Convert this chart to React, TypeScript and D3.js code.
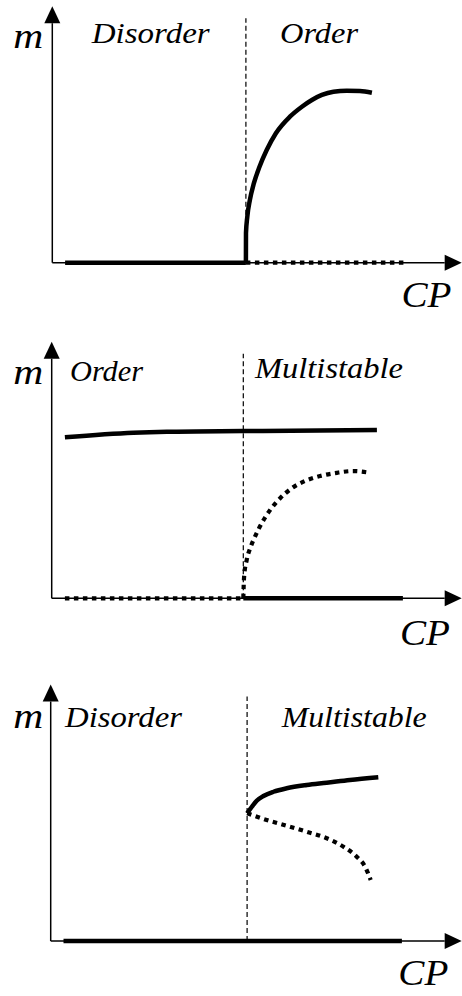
import React from "react";
import * as d3 from "d3";

type Pt = [number, number];

// ---- Data (CP on x, m on y) ----
const criticalPoints = [4.84, 4.79, 4.91];

const regionLabels = [
  ["Disorder", "Order"],
  ["Order", "Multistable"],
  ["Disorder", "Multistable"],
];

// Panel 1
const p1StableZero: Pt[] = [[0.32, 0], [4.84, 0]];
const p1UnstableZero: Pt[] = [[4.84, 0], [8.82, 0]];
const p1OrderBranch: Pt[] = [
  [4.84, 0], [4.842, 0.118], [4.875, 0.184], [4.94, 0.251], [5.04, 0.318], [5.18, 0.384],
  [5.36, 0.451], [5.59, 0.518], [5.94, 0.584], [6.24, 0.624], [6.49, 0.651], [6.74, 0.671],
  [7.03, 0.684], [7.36, 0.688], [7.69, 0.687], [7.99, 0.68],
];

// Panel 2
const p2OrderBranch: Pt[] = [[0.33, 0.644], [2.04, 0.662], [2.88, 0.666], [4.79, 0.669], [8.13, 0.673]];
const p2UnstableBranch: Pt[] = [
  [4.79, 0], [4.81, 0.086], [4.875, 0.153], [4.975, 0.206], [5.08, 0.246], [5.25, 0.3],
  [5.46, 0.353], [5.71, 0.4], [6.0, 0.44], [6.33, 0.469], [6.71, 0.489], [7.13, 0.502],
  [7.54, 0.509], [7.96, 0.502],
];
const p2UnstableZero: Pt[] = [[0.33, 0], [4.79, 0]];
const p2StableZero: Pt[] = [[4.79, 0], [8.78, 0]];

// Panel 3
const p3StableUpper: Pt[] = [
  [4.91, 0.511], [5.03, 0.537], [5.15, 0.561], [5.32, 0.58], [5.57, 0.597], [5.9, 0.611],
  [6.4, 0.624], [6.9, 0.633], [7.48, 0.644], [8.19, 0.655],
];
const p3UnstableMiddle: Pt[] = [
  [4.91, 0.511], [5.4, 0.484], [5.9, 0.461], [6.4, 0.437], [6.9, 0.411], [7.32, 0.377],
  [7.65, 0.337], [7.86, 0.297], [8.0, 0.244],
];
const p3StableZero: Pt[] = [[0.32, 0], [8.78, 0]];

type Series = { pts: Pt[]; dotted: boolean };

const panelSeries: Series[][] = [
  [
    { pts: p1StableZero, dotted: false },
    { pts: p1UnstableZero, dotted: true },
    { pts: p1OrderBranch, dotted: false },
  ],
  [
    { pts: p2OrderBranch, dotted: false },
    { pts: p2UnstableBranch, dotted: true },
    { pts: p2UnstableZero, dotted: true },
    { pts: p2StableZero, dotted: false },
  ],
  [
    { pts: p3StableUpper, dotted: false },
    { pts: p3UnstableMiddle, dotted: true },
    { pts: p3StableZero, dotted: false },
  ],
];

// ---- Layout ----
const W = 462;
const H = 996;
const originsX = [52.3, 51.7, 50.7];
const originsY = [262.7, 598.3, 941];
const labelBaseline = [
  { m: 48, left: 43.3, right: 43.3, cp: 306.7 },
  { m: 383.5, left: 381, right: 378, cp: 645 },
  { m: 727.5, left: 727, right: 727, cp: 985 },
];
const labelX = [
  { left: 91.7, leftLen: 118, right: 280, rightLen: 78, cp: 401.5 },
  { left: 70, leftLen: 73, right: 255, rightLen: 148, cp: 400 },
  { left: 65, leftLen: 117, right: 281.7, rightLen: 145, cp: 398.3 },
];
const FONT = "Liberation Serif";

function Panel({ i }: { i: number }) {
  const ox = originsX[i];
  const oy = originsY[i];
  const x = d3.scaleLinear().domain([0, 10]).range([ox, ox + 400]);
  const y = d3.scaleLinear().domain([0, 1]).range([oy, oy - 250]);
  const line = d3
    .line<Pt>()
    .x((d) => x(d[0]))
    .y((d) => y(d[1]))
    .curve(d3.curveMonotoneX);

  const yTop = y(1.026);
  const xEnd = W - 0.3;
  const head = 17;
  const hw = 8;
  const cp = criticalPoints[i];
  const lb = labelBaseline[i];
  const lx = labelX[i];

  return (
    <g>
      {/* axes */}
      <line x1={ox} y1={oy} x2={ox} y2={yTop + head} stroke="#000" strokeWidth={1.5} />
      <path d={`M${ox},${yTop} L${ox - hw},${yTop + head} L${ox + hw},${yTop + head} Z`} fill="#000" />
      <line x1={ox} y1={oy} x2={xEnd - head} y2={oy} stroke="#000" strokeWidth={1.5} />
      <path d={`M${xEnd},${oy} L${xEnd - head},${oy - hw} L${xEnd - head},${oy + hw} Z`} fill="#000" />

      {/* critical point divider */}
      <line
        x1={x(cp)}
        x2={x(cp)}
        y1={oy}
        y2={y(0.978)}
        stroke="#000"
        strokeWidth={1.2}
        strokeDasharray="5,3"
      />

      {/* branches */}
      {panelSeries[i].map((s, k) => (
        <path
          key={k}
          d={line(s.pts) || ""}
          fill="none"
          stroke="#000"
          strokeWidth={s.dotted ? 4.2 : 4.5}
          strokeDasharray={s.dotted ? "4.5,4.5" : undefined}
          strokeLinecap="butt"
        />
      ))}

      {/* labels */}
      <text x={13.3} y={lb.m} fontFamily={FONT} fontStyle="italic" fontSize={36} textLength={30} lengthAdjust="spacingAndGlyphs">m</text>
      <text x={lx.left} y={lb.left} fontFamily={FONT} fontStyle="italic" fontSize={28.5} textLength={lx.leftLen} lengthAdjust="spacingAndGlyphs">
        {regionLabels[i][0]}
      </text>
      <text x={lx.right} y={lb.right} fontFamily={FONT} fontStyle="italic" fontSize={28.5} textLength={lx.rightLen} lengthAdjust="spacingAndGlyphs">
        {regionLabels[i][1]}
      </text>
      <text x={lx.cp} y={lb.cp} fontFamily={FONT} fontStyle="italic" fontSize={36} textLength={50} lengthAdjust="spacingAndGlyphs">CP</text>
    </g>
  );
}

export default function App() {
  return (
    <svg
      width={W}
      height={H}
      viewBox={`0 0 ${W} ${H}`}
      style={{ position: "absolute", left: 0, top: 0, background: "#fff" }}
    >
      <rect width={W} height={H} fill="#fff" />
      {[0, 1, 2].map((i) => (
        <Panel key={i} i={i} />
      ))}
    </svg>
  );
}
